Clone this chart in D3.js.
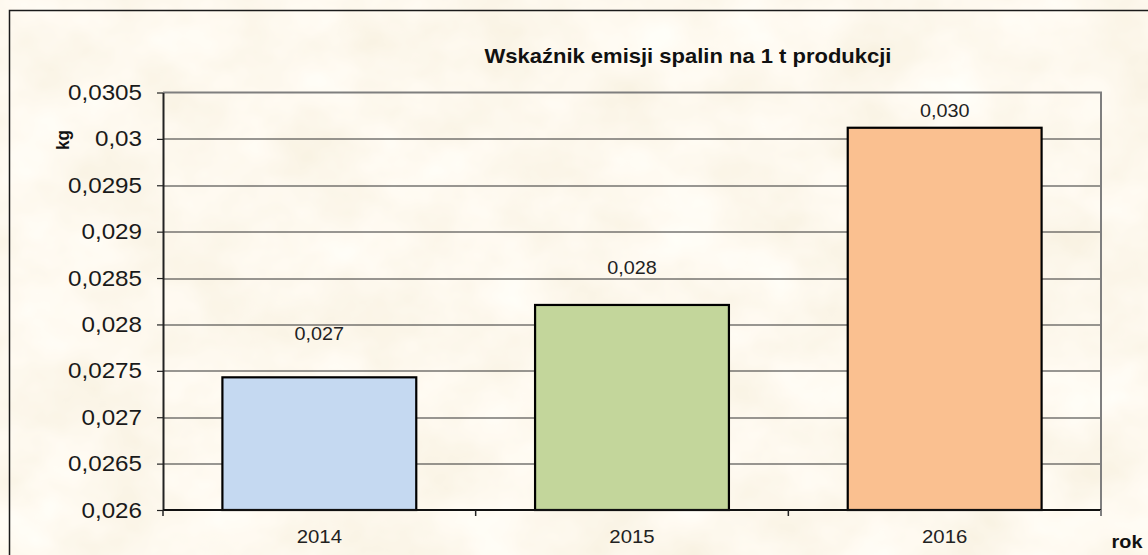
<!DOCTYPE html>
<html>
<head>
<meta charset="utf-8">
<script src="https://cdn.jsdelivr.net/npm/d3@7"></script>
<style>
  html, body { margin: 0; padding: 0; background: #fbf0da; }
  svg { display: block; font-family: "Liberation Sans", Arial, sans-serif; }
</style>
</head>
<body>
<div id="chart"></div>
<script>
// data
const years = ["2014", "2015", "2016"];
const emission = [0.02743, 0.02821, 0.03012];
const barColors = ["#c5d9f1", "#c3d69b", "#fac090"];
const yTicks = [0.026, 0.0265, 0.027, 0.0275, 0.028, 0.0285, 0.029, 0.0295, 0.03, 0.0305];
const yDomain = [0.026, 0.0305];

const W = 1148;
const H = 555;
const margin = { top: 92.5, right: 47, bottom: 45, left: 163 };
const plotW = W - margin.left - margin.right;
const plotH = H - margin.top - margin.bottom;
const sx = 1.1; // the picture is stretched sideways a bit, text too
const labelLift = [44, 37, 17];

const svg = d3.select("#chart").append("svg").attr("width", W).attr("height", H);

// parchment texture
const defs = svg.append("defs");
const paper = defs.append("filter").attr("id", "paper")
  .attr("x", 0).attr("y", 0).attr("width", 1).attr("height", 1);
paper.append("feTurbulence")
  .attr("type", "fractalNoise")
  .attr("baseFrequency", "0.011 0.014")
  .attr("numOctaves", 4)
  .attr("seed", 7);
paper.append("feColorMatrix")
  .attr("type", "matrix")
  .attr("values", "0.12 0 0 0 0.925  0.15 0 0 0 0.865  0.26 0 0 0 0.72  0 0 0 0 1");

svg.append("rect").attr("width", W).attr("height", H).attr("filter", "url(#paper)");

// outer frame
svg.append("path")
  .attr("d", `M9.5,${H} V10.5 H${W}`)
  .attr("fill", "none")
  .attr("stroke", "#1a1a1a")
  .attr("stroke-width", 1.5);

const g = svg.append("g").attr("transform", `translate(${margin.left},${margin.top})`);

const x = d3.scaleBand().domain(years).range([0, plotW]).paddingInner(0.38).paddingOuter(0.19);
const y = d3.scaleLinear().domain(yDomain).range([plotH, 0]);

// gridlines
g.selectAll(".grid")
  .data(yTicks.slice(1, -1))
  .join("line")
  .attr("class", "grid")
  .attr("x1", 0)
  .attr("x2", plotW)
  .attr("y1", (d) => Math.round(y(d)) + 0.5)
  .attr("y2", (d) => Math.round(y(d)) + 0.5)
  .attr("stroke", "#333")
  .attr("stroke-width", 1.2);

// plot border top/right (gray)
g.append("path")
  .attr("d", `M0,${y(yDomain[1])} H${plotW} V${plotH}`)
  .attr("fill", "none")
  .attr("stroke", "#7f7f7f")
  .attr("stroke-width", 2);

// bars
g.selectAll(".bar")
  .data(years)
  .join("rect")
  .attr("class", "bar")
  .attr("x", (d) => x(d))
  .attr("y", (d, i) => y(emission[i]))
  .attr("width", x.bandwidth())
  .attr("height", (d, i) => plotH - y(emission[i]))
  .attr("fill", (d, i) => barColors[i])
  .attr("stroke", "#000")
  .attr("stroke-width", 2.2);

// value labels
g.selectAll(".val")
  .data(years)
  .join("text")
  .attr("class", "val")
  .attr("transform", (d, i) =>
    `translate(${x(d) + x.bandwidth() / 2},${y(emission[i]) - labelLift[i]}) scale(${sx},1)`)
  .attr("text-anchor", "middle")
  .attr("dy", "0.35em")
  .attr("font-size", 18)
  .attr("fill", "#222")
  .text((d, i) => emission[i].toFixed(3).replace(".", ","));

// y axis
const yAxis = g.append("g")
  .call(d3.axisLeft(y).tickValues(yTicks).tickSize(6).tickSizeOuter(0)
    .tickFormat((d) => String(+d.toFixed(4)).replace(".", ",")));
yAxis.select(".domain").attr("stroke", "#222").attr("stroke-width", 2);
yAxis.selectAll(".tick line").attr("stroke", "#222").attr("stroke-width", 1.2);
yAxis.selectAll(".tick text")
  .attr("x", -21 / sx)
  .attr("transform", `scale(${sx},1)`)
  .attr("font-size", 22)
  .attr("fill", "#1a1a1a");

// x axis line + ticks on category edges
const xAxisG = g.append("g").attr("transform", `translate(0,${plotH})`);
xAxisG.append("line")
  .attr("x1", 0).attr("x2", plotW)
  .attr("stroke", "#111").attr("stroke-width", 2);
xAxisG.selectAll(".edge")
  .data(d3.range(years.length + 1))
  .join("line")
  .attr("class", "edge")
  .attr("x1", (i) => i * x.step())
  .attr("x2", (i) => i * x.step())
  .attr("y1", 0)
  .attr("y2", 6)
  .attr("stroke", (i) => (i === years.length ? "#7f7f7f" : "#222"))
  .attr("stroke-width", (i) => (i === years.length ? 2 : 1.5));
xAxisG.selectAll(".cat")
  .data(years)
  .join("text")
  .attr("class", "cat")
  .attr("transform", (d) => `translate(${x(d) + x.bandwidth() / 2},27) scale(${sx},1)`)
  .attr("text-anchor", "middle")
  .attr("dy", "0.35em")
  .attr("font-size", 18.5)
  .attr("fill", "#222")
  .text((d) => d);

// title
svg.append("text")
  .attr("transform", `translate(688,63) scale(${sx},1)`)
  .attr("text-anchor", "middle")
  .attr("font-size", 20)
  .attr("font-weight", "bold")
  .attr("fill", "#111")
  .text("Wskaźnik emisji spalin na 1 t produkcji");

// axis titles
svg.append("text")
  .attr("transform", `translate(69,140) rotate(-90) scale(1,${sx})`)
  .attr("text-anchor", "middle")
  .attr("font-size", 17)
  .attr("font-weight", "bold")
  .attr("fill", "#111")
  .text("kg");

svg.append("text")
  .attr("transform", `translate(1127,548) scale(${sx},1)`)
  .attr("text-anchor", "middle")
  .attr("font-size", 18)
  .attr("font-weight", "bold")
  .attr("fill", "#111")
  .text("rok");
</script>
</body>
</html>
